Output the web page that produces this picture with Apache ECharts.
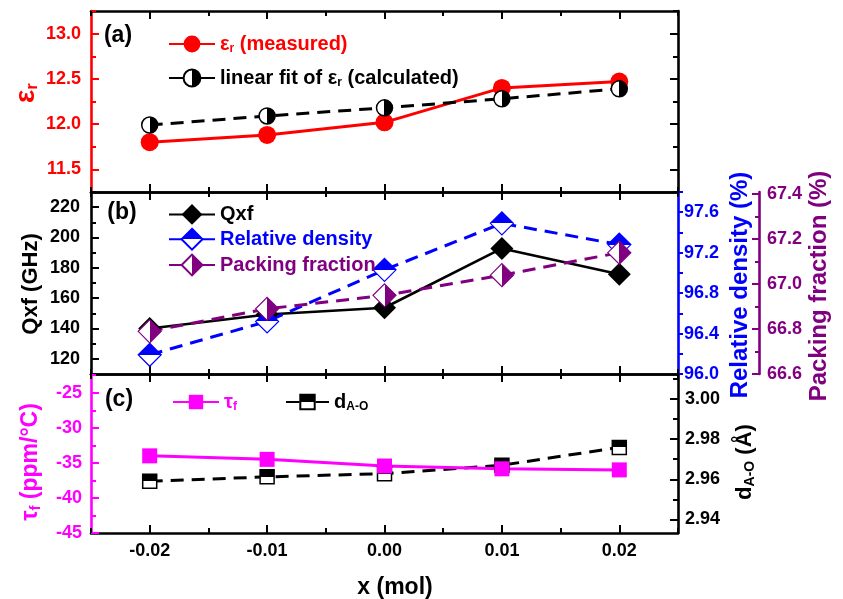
<!DOCTYPE html>
<html><head><meta charset="utf-8">
<script src="https://cdn.jsdelivr.net/npm/echarts@6/dist/echarts.min.js"></script>
<style>html,body{margin:0;padding:0;background:#fff}#c{width:843px;height:599px}</style>
</head><body><div id="c"></div>
<script>
// ---------------- data ----------------
const xValues = [-0.02, -0.01, 0.00, 0.01, 0.02];
const epsMeasured = [11.80, 11.88, 12.02, 12.40, 12.47];
const epsFit = [11.99, 12.09, 12.18, 12.28, 12.39];
const qxf = [140, 149.2, 153.7, 192.8, 175.7];
const relDensity = [96.19, 96.52, 97.03, 97.49, 97.28];
const packingFraction = [66.79, 66.89, 66.95, 67.04, 67.14];
const tauF = [-34.0, -34.5, -35.45, -35.85, -36.0];
const dAO = [2.9590, 2.9612, 2.9628, 2.9670, 2.9759];
// tick labels
const xTicks = [-0.02, -0.01, 0.00, 0.01, 0.02];
const epsTicks = [11.5, 12.0, 12.5, 13.0];
const qxfTicks = [120, 140, 160, 180, 200, 220];
const rdTicks = [96.0, 96.4, 96.8, 97.2, 97.6];
const pfTicks = [66.6, 66.8, 67.0, 67.2, 67.4];
const tauTicks = [-45, -40, -35, -30, -25];
const dTicks = [2.94, 2.96, 2.98, 3.00];

// ---------------- helpers ----------------
const FONT = '"Liberation Sans", Arial, sans-serif';
const RED = '#ff0000', BLUE = '#0000ff', PURPLE = '#800080', MAG = '#ff00ff', BLK = '#000000';
function steps(a, b, s) { const r = []; for (let v = a; v <= b + s * 1e-6; v += s) r.push(+v.toFixed(6)); return r; }
function pairs(arr) { return xValues.map((x, i) => [x, arr[i]]); }
function half(dir, c1, c2) { // dir 'h' left->right, 'v' top->bottom
  return new echarts.graphic.LinearGradient(0, 0, dir === 'h' ? 1 : 0, dir === 'v' ? 1 : 0,
    [{offset: 0, color: c1}, {offset: 0.5, color: c1}, {offset: 0.5, color: c2}, {offset: 1, color: c2}]);
}
const xAxes = [], yAxes = [];
function addAxis(list, common, o) {
  list.push(Object.assign({}, common, {
    axisLine: {show: true, onZero: false, lineStyle: {color: o.color, width: 2.6}},
    axisTick: {show: true, inside: o.inside, length: o.majorLen || 8, customValues: o.major,
               lineStyle: {color: o.color, width: 2}},
    axisLabel: o.labels ? {show: true, customValues: o.labels, formatter: o.fmt, color: o.color,
               fontFamily: FONT, fontWeight: 'bold', fontSize: 18, margin: o.margin} : {show: false},
    splitLine: {show: false}
  }));
  const idx = list.length - 1;
  if (o.minor) list.push(Object.assign({}, common, {
    axisLine: {show: false, onZero: false},
    axisTick: {show: true, inside: o.inside, length: o.minorLen || 5, customValues: o.minor,
               lineStyle: {color: o.color, width: 2}},
    axisLabel: {show: false}, splitLine: {show: false}
  }));
  return idx;
}
const xMinor = steps(-0.025, 0.025, 0.005);
const xs = [];
for (let g = 0; g < 3; g++) {
  const c = {type: 'value', gridIndex: g, min: -0.025, max: 0.025};
  xs.push(addAxis(xAxes, Object.assign({position: 'bottom'}, c), {color: BLK, inside: true, major: xTicks, minor: xMinor,
    labels: g === 2 ? xTicks : null, fmt: v => (Math.abs(v) < 1e-9 ? 0 : v).toFixed(2), margin: 9}));
  addAxis(xAxes, Object.assign({position: 'top'}, c), {color: BLK, inside: true, major: xTicks, minor: xMinor});
}
const yEps = addAxis(yAxes, {type: 'value', gridIndex: 0, position: 'left', min: 11.25, max: 13.25},
  {color: RED, inside: true, major: epsTicks, minor: steps(11.25, 13.25, 0.25), labels: epsTicks, fmt: v => v.toFixed(1), margin: 10});
addAxis(yAxes, {type: 'value', gridIndex: 0, position: 'right', min: 11.25, max: 13.25},
  {color: BLK, inside: true, major: epsTicks, minor: steps(11.25, 13.25, 0.25)});
const yQ = addAxis(yAxes, {type: 'value', gridIndex: 1, position: 'left', min: 110, max: 230},
  {color: BLK, inside: true, major: qxfTicks, minor: steps(110, 230, 10), labels: qxfTicks, fmt: v => String(v), margin: 11});
const yRD = addAxis(yAxes, {type: 'value', gridIndex: 1, position: 'right', min: 96.0, max: 97.8},
  {color: BLUE, inside: false, major: steps(96.0, 97.8, 0.2), majorLen: 5, labels: rdTicks, fmt: v => v.toFixed(1), margin: 6});
const yPF = addAxis(yAxes, {type: 'value', gridIndex: 1, position: 'right', offset: 81, min: 66.6, max: 67.41},
  {color: PURPLE, inside: true, major: pfTicks, minor: steps(66.6, 67.4, 0.1), majorLen: 7, minorLen: 4, labels: pfTicks, fmt: v => v.toFixed(1), margin: 8});
const yTau = addAxis(yAxes, {type: 'value', gridIndex: 2, position: 'left', min: -45, max: -22.33},
  {color: MAG, inside: true, major: tauTicks, minor: steps(-45, -22.5, 2.5), labels: tauTicks, fmt: v => String(v), margin: 9});
const yD = addAxis(yAxes, {type: 'value', gridIndex: 2, position: 'right', min: 2.9332, max: 3.0125},
  {color: BLK, inside: true, major: dTicks, minor: steps(2.94, 3.01, 0.01), labels: dTicks, fmt: v => v.toFixed(2), margin: 7});

const dash = [13, 8];
const series = [
  {name: 'eps', type: 'line', xAxisIndex: xs[0], yAxisIndex: yEps, data: pairs(epsMeasured),
   symbol: 'circle', symbolSize: 18, lineStyle: {color: RED, width: 3}, itemStyle: {color: RED}},
  {name: 'fit', type: 'line', xAxisIndex: xs[0], yAxisIndex: yEps, data: pairs(epsFit),
   symbol: 'circle', symbolSize: 16, lineStyle: {color: BLK, width: 3, type: dash},
   itemStyle: {color: half('h', '#fff', BLK), borderColor: BLK, borderWidth: 1.5}},
  {name: 'Qxf', type: 'line', xAxisIndex: xs[1], yAxisIndex: yQ, data: pairs(qxf),
   symbol: 'diamond', symbolSize: 23, lineStyle: {color: BLK, width: 2.6}, itemStyle: {color: BLK}},
  {name: 'Relative density', type: 'line', xAxisIndex: xs[1], yAxisIndex: yRD, data: pairs(relDensity),
   symbol: 'diamond', symbolSize: 23, lineStyle: {color: BLUE, width: 3, type: dash},
   itemStyle: {color: half('v', BLUE, '#fff'), borderColor: BLUE, borderWidth: 1.2}},
  {name: 'Packing fraction', type: 'line', xAxisIndex: xs[1], yAxisIndex: yPF, data: pairs(packingFraction),
   symbol: 'diamond', symbolSize: 23, lineStyle: {color: PURPLE, width: 3, type: dash},
   itemStyle: {color: half('h', '#fff', PURPLE), borderColor: PURPLE, borderWidth: 1.2}},
  {name: 'dAO', type: 'line', xAxisIndex: xs[2], yAxisIndex: yD, data: pairs(dAO),
   symbol: 'rect', symbolSize: 14, lineStyle: {color: BLK, width: 3, type: dash},
   itemStyle: {color: half('v', BLK, '#fff'), borderColor: BLK, borderWidth: 1.5}},
  {name: 'tau', type: 'line', xAxisIndex: xs[2], yAxisIndex: yTau, data: pairs(tauF),
   symbol: 'rect', symbolSize: 15, lineStyle: {color: MAG, width: 3}, itemStyle: {color: MAG}}
];
series.forEach(s => { s.animation = false; s.showAllSymbol = true; });

const richStyles = {
  r: {color: RED, fontSize: 20, fontWeight: 'bold', fontFamily: FONT, lineHeight: 22},
  rs: {color: RED, fontSize: 12, fontWeight: 'bold', fontFamily: FONT, lineHeight: 10, verticalAlign: 'bottom'},
  k: {color: BLK, fontSize: 20, fontWeight: 'bold', fontFamily: FONT, lineHeight: 22},
  ks: {color: BLK, fontSize: 12, fontWeight: 'bold', fontFamily: FONT, lineHeight: 10, verticalAlign: 'bottom'},
  m: {color: MAG, fontSize: 20, fontWeight: 'bold', fontFamily: FONT, lineHeight: 22},
  ms: {color: MAG, fontSize: 12, fontWeight: 'bold', fontFamily: FONT, lineHeight: 10, verticalAlign: 'bottom'}
};
const legendLabels = {
  eps: '{r|ε}{rs|r}{r| (measured)}',
  fit: '{k|linear fit of ε}{ks|r}{k| (calculated)}',
  tau: '{m|τ}{ms|f}',
  dAO: '{k|d}{ks|A-O}'
};
const legDash = w => ({type: [w / 2 - 8, 16]});
const legBase = {selectedMode: false, orient: 'vertical', itemWidth: 46,
  textStyle: {fontFamily: FONT, fontWeight: 'bold', fontSize: 20, rich: richStyles},
  formatter: n => legendLabels[n] || n};
const legends = [
  Object.assign({}, legBase, {left: 163, top: 29, itemHeight: 21, itemGap: 13,
    data: ['eps', {name: 'fit', lineStyle: legDash(46)}]}),
  Object.assign({}, legBase, {left: 163, top: 199, itemHeight: 26, itemGap: 3, data: [
    {name: 'Qxf', textStyle: {color: BLK}},
    {name: 'Relative density', textStyle: {color: BLUE}, lineStyle: legDash(46)},
    {name: 'Packing fraction', textStyle: {color: PURPLE}, lineStyle: legDash(46)}]}),
  Object.assign({}, legBase, {left: 167, top: 387, itemHeight: 18, data: ['tau']}),
  Object.assign({}, legBase, {left: 280, top: 387, itemWidth: 43, itemHeight: 18,
    data: [{name: 'dAO', lineStyle: legDash(43)}]})
];

function txt(x, y, text, color, size, rot, richDef) {
  return {type: 'text', x, y, rotation: rot ? Math.PI / 2 : 0, silent: true,
    style: {text, fill: color, font: 'bold ' + size + 'px ' + FONT, align: 'center', verticalAlign: 'middle',
      rich: richDef}};
}
const titleRich = (c, s, ss) => ({a: {fill: c, fontSize: s, fontWeight: 'bold', fontFamily: FONT, lineHeight: s + 2},
  b: {fill: c, fontSize: ss, fontWeight: 'bold', fontFamily: FONT, lineHeight: ss, verticalAlign: 'bottom'}});
const graphics = [
  txt(118, 36, '(a)', BLK, 23),
  txt(122, 213, '(b)', BLK, 23),
  txt(119, 400, '(c)', BLK, 23),
  txt(26, 93, '{a|ε}{b|r}', RED, 26, true, titleRich(RED, 28, 17)),
  txt(31, 284, 'Qxf (GHz)', BLK, 22, true),
  txt(31, 462, '{a|τ}{b|f}{a| (ppm/°C)}', MAG, 23, true, titleRich(MAG, 23, 15)),
  txt(745, 462, '{a|d}{b|A-O}{a| (Å)}', BLK, 22, true, titleRich(BLK, 22, 14)),
  txt(740, 285, 'Relative density (%)', BLUE, 24, true),
  txt(819, 286, 'Packing fraction (%)', PURPLE, 24, true),
  txt(395, 588, 'x (mol)', BLK, 23)
];

const chart = echarts.init(document.getElementById('c'), null, {renderer: 'canvas'});
chart.setOption({
  animation: false,
  backgroundColor: '#fff',
  textStyle: {fontFamily: FONT},
  grid: [
    {left: 91, top: 11, width: 587, height: 181},
    {left: 91, top: 192, width: 587, height: 182},
    {left: 91, top: 374, width: 587, height: 159}
  ],
  xAxis: xAxes,
  yAxis: yAxes,
  legend: legends,
  series,
  graphic: graphics
});
</script></body></html>
